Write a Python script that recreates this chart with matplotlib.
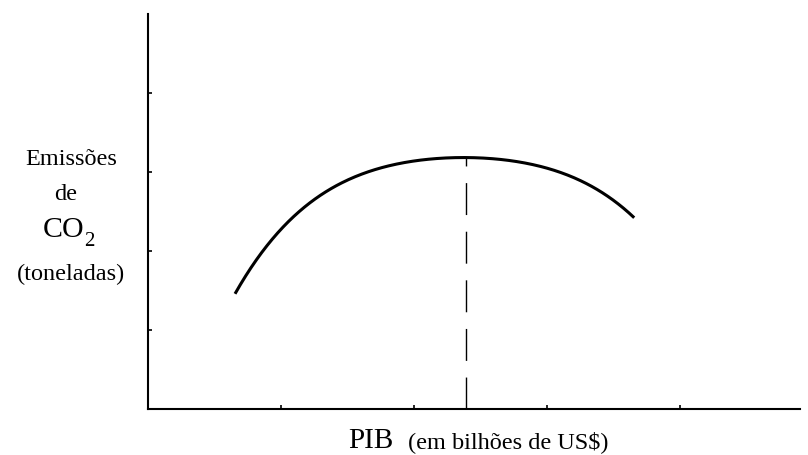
import numpy as np
import matplotlib.pyplot as plt

# ------------------------------ Data -----------------------------------

# Curve (PIB vs emissões, arbitrary units)
pib = [0.654, 0.767, 0.895, 1.053, 1.271, 1.444, 1.647, 1.895,
       2.143, 2.391, 2.609, 2.895, 3.098, 3.271, 3.459, 3.654]
emissoes = [1.418, 1.797, 2.114, 2.367, 2.660, 2.830, 2.990, 3.110,
            3.177, 3.190, 3.177, 3.095, 2.985, 2.865, 2.684, 2.430]

# Turning point of the curve
pico_x = 2.391
pico_y = 3.190

x_ticks = [1, 2, 3, 4]
y_ticks = [1, 2, 3, 4]

# ------------------------------ Plotting -----------------------------------

plt.rcParams['font.family'] = ['Liberation Serif', 'DejaVu Serif']

W, H = 808, 455
fig = plt.figure(figsize=(W / 100, H / 100), dpi=100)
ax = fig.add_axes([148 / W, 1 - 409 / H, 652 / W, 395 / H])

# smooth the hand-drawn arc through the read points
coef = np.polyfit(pib, emissoes, 4)
t = np.linspace(pib[0], pib[-1], 300)
ax.plot(t, np.polyval(coef, t), color='black', linewidth=2.2, solid_capstyle='butt')

# dashed vertical line at the peak
ax.plot([pico_x, pico_x], [0, pico_y], color='black', linewidth=1.0,
        dashes=(23, 12))

ax.set_xlim(0, 4.9)
ax.set_ylim(0, 5.0)
ax.set_xticks(x_ticks)
ax.set_yticks(y_ticks)
ax.set_xticklabels([])
ax.set_yticklabels([])
ax.tick_params(direction='in', length=3, width=1.2, color='black')

for side in ['top', 'right']:
    ax.spines[side].set_visible(False)
for side in ['left', 'bottom']:
    ax.spines[side].set_linewidth(1.5)

# y-axis label, stacked lines
fig.text(71 / W, 1 - 165 / H, 'Emissões', ha='center', va='baseline', fontsize=17.5)
fig.text(66 / W, 1 - 200 / H, 'de', ha='center', va='baseline', fontsize=17.5)
fig.text(43 / W, 1 - 237 / H, 'CO', ha='left', va='baseline', fontsize=21.5)
fig.text(84 / W, 1 - 246 / H, '2', ha='left', va='baseline', fontsize=15)
fig.text(71 / W, 1 - 280 / H, '(toneladas)', ha='center', va='baseline', fontsize=17.5)

# x-axis label
fig.text(348 / W, 1 - 448 / H, 'PIB', ha='left', va='baseline', fontsize=21)
fig.text(408 / W, 1 - 448 / H, '(em bilhões de US$)', ha='left', va='baseline', fontsize=17.5)

fig.savefig('out.png', dpi=100)
